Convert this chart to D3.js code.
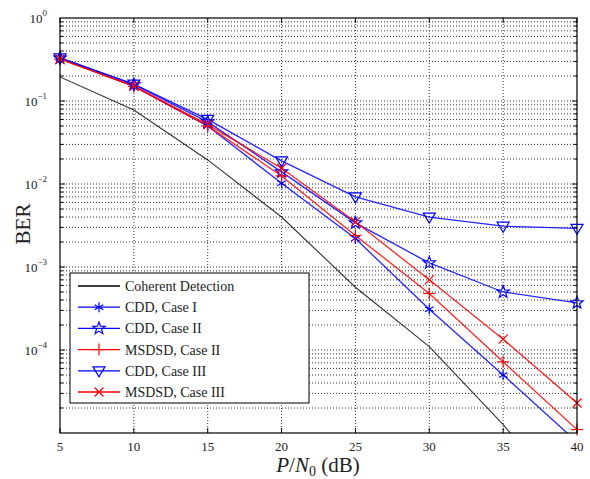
<!DOCTYPE html>
<html><head><meta charset="utf-8">
<script src="https://cdn.jsdelivr.net/npm/d3@7"></script>
<style>body{margin:0;background:#fff} text{font-family:'Liberation Serif','Times New Roman','DejaVu Serif',serif}</style>
</head><body>
<svg id="c" width="590" height="479" font-family="Liberation Serif, DejaVu Serif, serif"></svg>
<script>
const snr = [5, 10, 15, 20, 25, 30, 35, 40];
const xTicks = [5, 10, 15, 20, 25, 30, 35, 40];
const yTickExps = [0, -1, -2, -3, -4];
const coherent = [0.195, 0.078, 0.0195, 0.0040, 0.00057, 0.00011, 0.0000126, 0.0000012];
const cddCase1 = [0.33, 0.15, 0.050, 0.0102, 0.0022, 0.00031, 0.00005, 0.0000078];
const cddCase2 = [0.33, 0.158, 0.056, 0.014, 0.0034, 0.00112, 0.0005, 0.00037];
const msdsdCase2 = [0.32, 0.15, 0.050, 0.0125, 0.0024, 0.00048, 0.000072, 0.000011];
const cddCase3 = [0.33, 0.16, 0.060, 0.019, 0.0070, 0.0040, 0.0031, 0.00292];
const msdsdCase3 = [0.32, 0.152, 0.052, 0.0155, 0.0035, 0.0007, 0.000135, 0.000023];
const seriesNames = ["Coherent Detection","CDD, Case I","CDD, Case II","MSDSD, Case II","CDD, Case III","MSDSD, Case III"];

const series = [
  {name: seriesNames[0], values: coherent, color: "#000", marker: null},
  {name: seriesNames[1], values: cddCase1, color: "#0000ff", marker: "asterisk"},
  {name: seriesNames[2], values: cddCase2, color: "#0000ff", marker: "star"},
  {name: seriesNames[3], values: msdsdCase2, color: "#ff0000", marker: "plus"},
  {name: seriesNames[4], values: cddCase3, color: "#0000ff", marker: "tri"},
  {name: seriesNames[5], values: msdsdCase3, color: "#ff0000", marker: "cross"}
];

const FONT = "'Liberation Serif', 'DejaVu Serif', serif";
const L = 60, R = 577, T = 18, B = 433;
const svg = d3.select("#c");
const x = d3.scaleLinear().domain([5, 40]).range([L, R]);
const y = d3.scaleLog().domain([1e-5, 1]).range([B, T]);

// grid
const g = svg.append("g");
const minor = [];
for (let e = -5; e < 0; e++) for (let k = 1; k < 10; k++) minor.push(k * Math.pow(10, e));
minor.push(1);
g.selectAll(".hy").data(minor.filter(v => v > 1e-5 && v < 1)).enter().append("line")
  .attr("x1", L).attr("x2", R).attr("y1", d => y(d)).attr("y2", d => y(d))
  .attr("stroke", "#000").attr("stroke-width", 0.8).attr("stroke-dasharray", "1,2");
g.selectAll(".vx").data(xTicks.slice(1, -1)).enter().append("line")
  .attr("y1", T).attr("y2", B).attr("x1", d => x(d)).attr("x2", d => x(d))
  .attr("stroke", "#000").attr("stroke-width", 0.8).attr("stroke-dasharray", "1,2");

// ticks inward
const tk = svg.append("g").attr("stroke", "#000").attr("stroke-width", 1);
xTicks.forEach(v => {
  tk.append("line").attr("x1", x(v)).attr("x2", x(v)).attr("y1", B).attr("y2", B - 5);
  tk.append("line").attr("x1", x(v)).attr("x2", x(v)).attr("y1", T).attr("y2", T + 5);
});
minor.filter(v => v > 1e-5 && v < 1).forEach(v => {
  const isMajor = Math.abs(Math.log10(v) - Math.round(Math.log10(v))) < 1e-9;
  const len = isMajor ? 5 : 3;
  tk.append("line").attr("x1", L).attr("x2", L + len).attr("y1", y(v)).attr("y2", y(v));
  tk.append("line").attr("x1", R).attr("x2", R - len).attr("y1", y(v)).attr("y2", y(v));
});

// clip
svg.append("clipPath").attr("id", "clip").append("rect").attr("x", L).attr("y", T).attr("width", R - L).attr("height", B - T);
const plot = svg.append("g").attr("clip-path", "url(#clip)");

const line = d3.line().x((d, i) => x(snr[i])).y(d => y(d));

function drawMarker(sel, type, color, cx, cy) {
  const m = sel.append("g").attr("transform", `translate(${cx},${cy})`)
    .attr("stroke", color).attr("fill", "none").attr("stroke-width", 1.2);
  if (type === "asterisk") {
    const r = 5;
    [90, 30, 150].forEach(a => {
      const rad = a * Math.PI / 180;
      m.append("line").attr("x1", -r * Math.cos(rad)).attr("y1", -r * Math.sin(rad))
        .attr("x2", r * Math.cos(rad)).attr("y2", r * Math.sin(rad));
    });
  } else if (type === "star") {
    const pts = [];
    for (let i = 0; i < 10; i++) {
      const rr = i % 2 === 0 ? 6.5 : 2.7;
      const a = -Math.PI / 2 + i * Math.PI / 5;
      pts.push([rr * Math.cos(a), rr * Math.sin(a)]);
    }
    m.append("polygon").attr("points", pts.map(p => p.join(",")).join(" "));
  } else if (type === "plus") {
    const r = 6;
    m.append("line").attr("x1", -r).attr("x2", r).attr("y1", 0).attr("y2", 0);
    m.append("line").attr("y1", -r).attr("y2", r).attr("x1", 0).attr("x2", 0);
  } else if (type === "tri") {
    m.append("polygon").attr("points", "-6,-4 6,-4 0,6");
  } else if (type === "cross") {
    const r = 4.5;
    m.append("line").attr("x1", -r).attr("y1", -r).attr("x2", r).attr("y2", r);
    m.append("line").attr("x1", -r).attr("y1", r).attr("x2", r).attr("y2", -r);
  }
}

series.forEach(s => {
  plot.append("path").attr("d", line(s.values)).attr("fill", "none")
    .attr("stroke", s.color).attr("stroke-width", s.marker ? 1.3 : 1.1)
    .attr("stroke-opacity", s.marker ? 0.85 : 0.8);
  if (s.marker) {
    s.values.forEach((v, i) => {
      if (v >= 1e-5) drawMarker(svg, s.marker, s.color, x(snr[i]), y(v));
    });
  }
});

// frame
svg.append("rect").attr("x", L).attr("y", T).attr("width", R - L).attr("height", B - T)
  .attr("fill", "none").attr("stroke", "#000").attr("stroke-width", 1.2);

// x tick labels
svg.selectAll(".xl").data(xTicks).enter().append("text")
  .attr("x", d => x(d)).attr("y", 451).attr("text-anchor", "middle").attr("font-family", FONT)
  .attr("font-size", 13).attr("fill", "#222").text(d => d);

// y tick labels
yTickExps.forEach(e => {
  const t = svg.append("text").attr("x", 47).attr("y", y(Math.pow(10, e)) + 5).attr("font-family", FONT)
    .attr("text-anchor", "end").attr("font-size", 13).attr("fill", "#222");
  t.append("tspan").text("10");
  t.append("tspan").attr("dy", -7).attr("font-size", 9).text(e === 0 ? "0" : "\u2212" + (-e));
});

// axis labels
svg.append("text").attr("transform", "translate(30,224) rotate(-90)").attr("text-anchor", "middle")
  .attr("font-family", FONT).attr("font-size", 21).attr("fill", "#222").text("BER");
const xl = svg.append("text").attr("x", 318).attr("y", 472).attr("text-anchor", "middle")
  .attr("font-family", FONT).attr("font-size", 21).attr("fill", "#222");
xl.append("tspan").attr("font-style", "italic").text("P");
xl.append("tspan").text("/");
xl.append("tspan").attr("font-style", "italic").text("N");
xl.append("tspan").attr("font-size", 14).attr("dy", 4).text("0");
xl.append("tspan").attr("dy", -4).text(" (dB)");

// legend
const lg = svg.append("g");
lg.append("rect").attr("x", 70).attr("y", 273).attr("width", 239).attr("height", 130)
  .attr("fill", "#fff").attr("stroke", "#000").attr("stroke-width", 1);
series.forEach((s, i) => {
  const yy = 286 + i * 21.2;
  lg.append("line").attr("x1", 78).attr("x2", 120).attr("y1", yy).attr("y2", yy)
    .attr("stroke", s.color).attr("stroke-width", 1.3);
  if (s.marker) drawMarker(lg, s.marker, s.color, 99, yy);
  lg.append("text").attr("x", 125).attr("y", yy + 5).attr("font-family", FONT).attr("font-size", 14)
    .attr("fill", "#222").text(s.name);
});
</script>
</body></html>
